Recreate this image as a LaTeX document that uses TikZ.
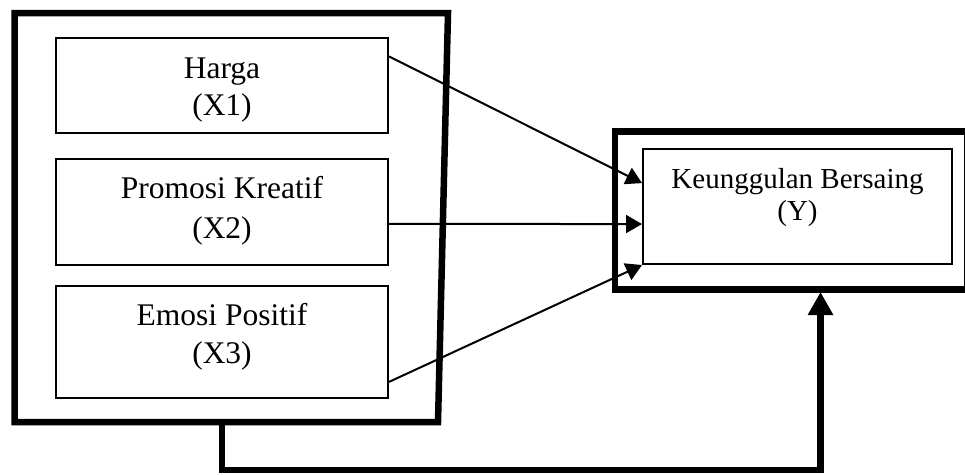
\documentclass[tikz,border=0pt]{standalone}
\usepackage{fontspec}
\setmainfont{Liberation Serif}
\usetikzlibrary{arrows.meta,calc}
\begin{document}
\begin{tikzpicture}[x=1pt,y=-1pt,
  varbox/.style={draw, line width=2pt, inner sep=0pt, minimum width=332pt},
  framebox/.style={draw, line width=6.5pt, inner sep=0pt},
  frameline/.style={line width=6.5pt, line join=miter},
  lbl/.style={anchor=base, inner sep=0pt, font=\fontsize{31.5}{37}\selectfont},
  lblr/.style={anchor=base, inner sep=0pt, font=\fontsize{29}{33}\selectfont},
  link/.style={line width=2pt, -{Triangle[width=18pt,length=16pt]}},
  feedback/.style={line width=6.5pt, line join=miter, -{Triangle[width=24pt,length=23pt]}}
]
\useasboundingbox (0,0) rectangle (965,474);

% outer frame around the independent variables (slightly slanted right side)
\coordinate (f1) at (14.5,13);
\coordinate (f2) at (448,13);
\coordinate (f3) at (438,422);
\coordinate (f4) at (14.5,422);
\draw[frameline] (f1) -- (f2) -- (f3) -- (f4) -- cycle;

% independent variables
\node[varbox, minimum height=95pt]  (b1) at (222,85.5) {};
\node[varbox, minimum height=106pt] (b2) at (222,212) {};
\node[varbox, minimum height=112pt] (b3) at (222,342) {};
\node[lbl] (t1a) at (222,78)  {Harga};
\node[lbl] (t1b) at (222,115) {(X1)};
\node[lbl] (t2a) at (222,198) {Promosi Kreatif};
\node[lbl] (t2b) at (222,238) {(X2)};
\node[lbl] (t3a) at (222,325) {Emosi Positif};
\node[lbl] (t3b) at (222,363) {(X3)};

% dependent variable
\node[framebox, minimum width=352pt, minimum height=158pt] (ro) at (791,210.5) {};
\node[draw, line width=2pt, inner sep=0pt, minimum width=309pt, minimum height=115pt] (y) at (797.5,206.5) {};
\node[lblr] (tya) at (797.5,188) {Keunggulan Bersaing};
\node[lblr] (tyb) at (797.5,220) {(Y)};

% paths X -> Y
\draw[link] ($(b1.north east)!0.2!(b1.south east)$) -- ($(y.north west)!0.3!(y.south west)$);
\draw[link] ($(b2.north east)!0.61!(b2.south east)$) -- ($(y.north west)!0.65!(y.south west)$);
\draw[link] ($(b3.north east)!0.85!(b3.south east)$) -- ($(y.north west)!1!(y.south west)$);

% simultaneous effect
\coordinate (stem) at (222,422);
\coordinate (base) at (222,470);
\coordinate (tip) at (820.5,292);
\draw[feedback] (stem) -- (base) -| (tip);
\end{tikzpicture}
\end{document}
